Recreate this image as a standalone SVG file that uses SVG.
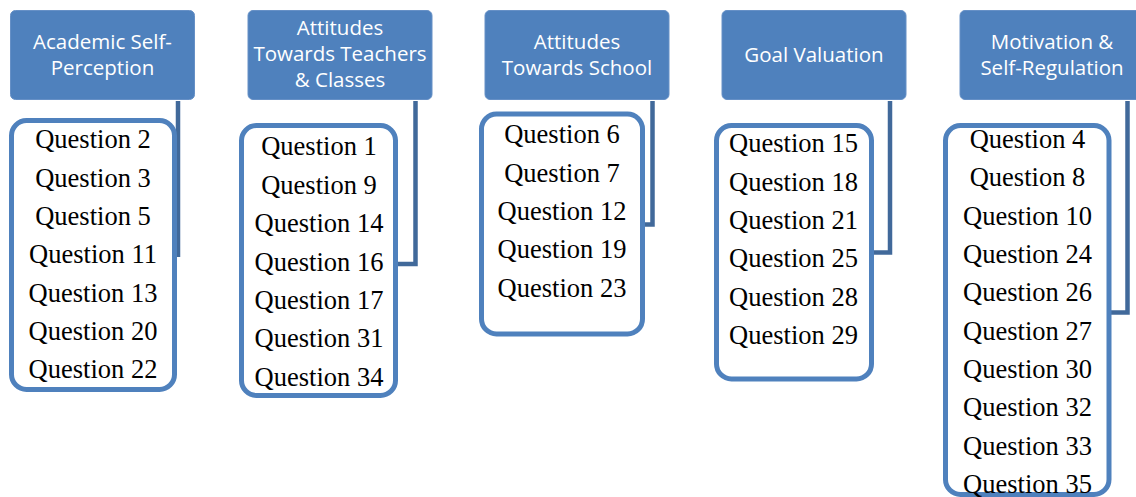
<svg xmlns="http://www.w3.org/2000/svg" width="1136" height="497" viewBox="0 0 1136 497">
<style>
.hdr{fill:#4f81bd;stroke:#6690c6;stroke-width:1}
.box{fill:#ffffff;stroke:#4f81bd;stroke-width:5}
.ht{font-family:"Open Sans","Liberation Sans",sans-serif;font-size:20.5px;fill:#ffffff;text-anchor:middle}
.qt{font-family:"Liberation Serif","Times New Roman",serif;font-size:26.5px;fill:#000000;text-anchor:middle}
.con{fill:none;stroke:#41699a;stroke-width:4.5;stroke-linejoin:miter}
</style>
<rect width="1136" height="497" fill="#ffffff"/>
<g id="connectors">
<path class="con" d="M178 101 V257"/>
<path class="con" d="M415.5 101 V264 H397"/>
<path class="con" d="M652.5 101 V224.5 H642"/>
<path class="con" d="M890 101 V252.5 H871"/>
<path class="con" d="M1127.5 101 V312.5 H1109"/>
</g>
<g id="h1"><rect class="hdr" x="10.5" y="10.5" width="184" height="89" rx="5"/><text class="ht" x="102.5" y="49">Academic Self-</text><text class="ht" x="102.5" y="75">Perception</text></g>
<g id="h2"><rect class="hdr" x="248" y="10.5" width="184" height="89" rx="5"/><text class="ht" x="340" y="35">Attitudes</text><text class="ht" x="340" y="61">Towards Teachers</text><text class="ht" x="340" y="87">&amp; Classes</text></g>
<g id="h3"><rect class="hdr" x="485" y="10.5" width="184" height="89" rx="5"/><text class="ht" x="577" y="49">Attitudes</text><text class="ht" x="577" y="75">Towards School</text></g>
<g id="h4"><rect class="hdr" x="722" y="10.5" width="184" height="89" rx="5"/><text class="ht" x="814" y="62">Goal Valuation</text></g>
<g id="h5"><rect class="hdr" x="960" y="10.5" width="184" height="89" rx="5"/><text class="ht" x="1052" y="49">Motivation &amp;</text><text class="ht" x="1052" y="75">Self-Regulation</text></g>
<g id="b1"><rect class="box" x="11.5" y="120.5" width="163" height="269" rx="15"/>
<text class="qt" x="93" y="148">Question 2</text><text class="qt" x="93" y="186.5">Question 3</text><text class="qt" x="93" y="225">Question 5</text><text class="qt" x="93" y="263">Question 11</text><text class="qt" x="93" y="301.5">Question 13</text><text class="qt" x="93" y="340">Question 20</text><text class="qt" x="93" y="378">Question 22</text></g>
<g id="b2"><rect class="box" x="241.5" y="125.5" width="154" height="270" rx="15"/>
<text class="qt" x="319" y="155">Question 1</text><text class="qt" x="319" y="194">Question 9</text><text class="qt" x="319" y="232">Question 14</text><text class="qt" x="319" y="271">Question 16</text><text class="qt" x="319" y="309">Question 17</text><text class="qt" x="319" y="347">Question 31</text><text class="qt" x="319" y="386">Question 34</text></g>
<g id="b3"><rect class="box" x="481.5" y="114" width="161" height="220" rx="15"/>
<text class="qt" x="562" y="143">Question 6</text><text class="qt" x="562" y="181.5">Question 7</text><text class="qt" x="562" y="220">Question 12</text><text class="qt" x="562" y="258">Question 19</text><text class="qt" x="562" y="296.5">Question 23</text></g>
<g id="b4"><rect class="box" x="716.5" y="125.5" width="155" height="253.5" rx="15"/>
<text class="qt" x="793.5" y="152">Question 15</text><text class="qt" x="793.5" y="191">Question 18</text><text class="qt" x="793.5" y="229">Question 21</text><text class="qt" x="793.5" y="267">Question 25</text><text class="qt" x="793.5" y="306">Question 28</text><text class="qt" x="793.5" y="344">Question 29</text></g>
<g id="b5"><rect class="box" x="945.5" y="125.5" width="163.5" height="369" rx="15"/>
<text class="qt" x="1027.5" y="148">Question 4</text><text class="qt" x="1027.5" y="186">Question 8</text><text class="qt" x="1027.5" y="224.5">Question 10</text><text class="qt" x="1027.5" y="263">Question 24</text><text class="qt" x="1027.5" y="301">Question 26</text><text class="qt" x="1027.5" y="339.5">Question 27</text><text class="qt" x="1027.5" y="378">Question 30</text><text class="qt" x="1027.5" y="416">Question 32</text><text class="qt" x="1027.5" y="455">Question 33</text><text class="qt" x="1027.5" y="493">Question 35</text></g>
</svg>
